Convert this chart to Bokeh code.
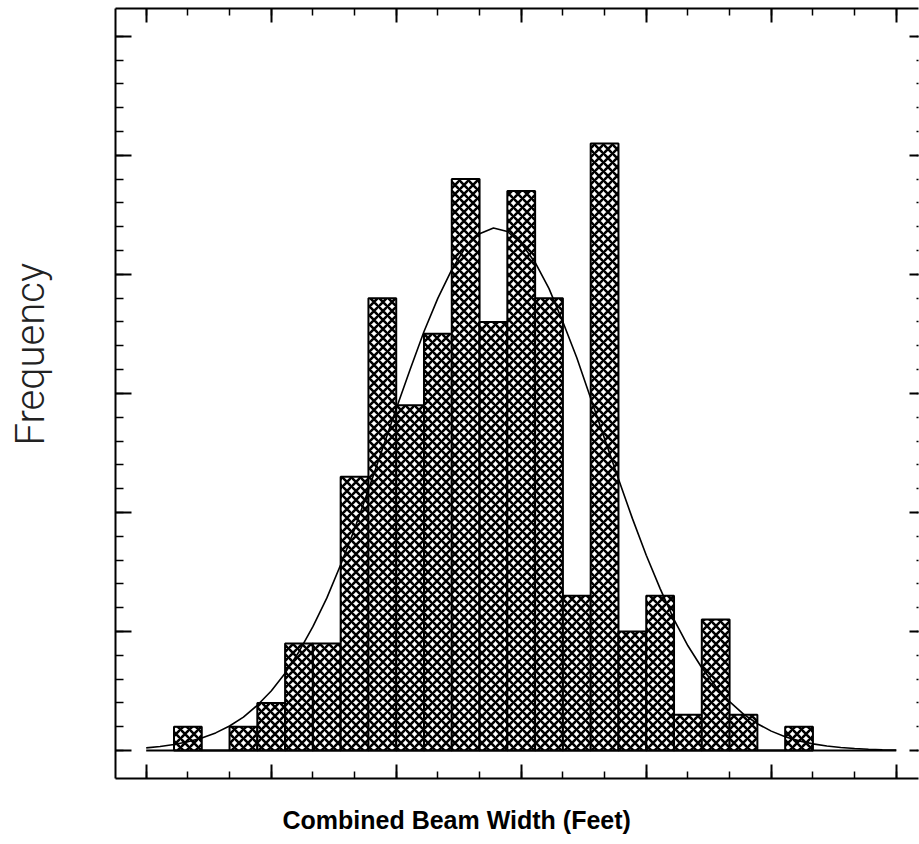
from bokeh.plotting import figure
from bokeh.models import FixedTicker, LinearAxis, Range1d, ColumnDataSource, Title
from bokeh.embed import file_html
from bokeh.resources import INLINE

# ---- data (x in bin units, y in counts) ----
bin_start = [1, 2, 3, 4, 5, 6, 7, 8, 9, 10, 11, 12, 13, 14, 15, 16, 17, 18, 19, 20, 21, 22, 23]
bin_width = 1
counts = [2, 0, 2, 4, 9, 9, 23, 38, 29, 35, 48, 36, 47, 38, 13, 51, 10, 13, 3, 11, 3, 0, 2]

curve_x = [0, 0.5, 1, 1.5, 2, 2.5, 3, 3.5, 4, 4.5, 5, 5.5, 6, 6.5, 7, 7.5, 8, 8.5, 9, 9.5, 10, 10.5,
           11, 11.5, 12, 12.5, 13, 13.5, 14, 14.5, 15, 15.5, 16, 16.5, 17, 17.5, 18, 18.5, 19, 19.5,
           20, 20.5, 21, 21.5, 22, 22.5, 23, 23.5, 24, 24.5, 25, 25.5, 26, 26.5, 27]
curve_y = [0.22, 0.34, 0.5, 0.73, 1.05, 1.48, 2.06, 2.81, 3.8, 5.0, 6.5, 8.3, 10.4, 12.8, 15.6, 18.6,
           21.9, 25.3, 28.7, 32.0, 35.2, 38.0, 40.4, 42.3, 43.4, 43.9, 43.6, 42.6, 41.0, 38.8, 36.0,
           33.0, 29.6, 26.2, 22.8, 19.5, 16.4, 13.6, 11.0, 8.8, 6.95, 5.4, 4.1, 3.06, 2.25, 1.63,
           1.16, 0.81, 0.56, 0.38, 0.25, 0.17, 0.11, 0.07, 0.04]

x_axis_min, x_axis_max = 0, 27
x_major = [0, 4.5, 9, 13.5, 18, 22.5, 27]
x_minor = [0, 1.5, 3, 4.5, 6, 7.5, 9, 10.5, 12, 13.5, 15, 16.5, 18, 19.5, 21, 22.5, 24, 25.5, 27]
y_major = [0, 10, 20, 30, 40, 50, 60]
y_minor = list(range(0, 61, 2))

x_label = "Combined Beam Width (Feet)"
y_label = "Frequency"

# ---- figure ----
p = figure(width=919, height=844, output_backend="svg", toolbar_location=None,
           x_range=Range1d(-1.105, 27.80), y_range=Range1d(-2.35, 62.33),
           min_border_left=115, min_border_right=1, min_border_top=8, min_border_bottom=65,
           x_axis_location=None, y_axis_location=None)
p.outline_line_color = None
p.grid.visible = False
p.background_fill_color = "white"
p.border_fill_color = "white"


def style_axis(ax, major, minor, tin, min_in, show_line=True):
    ax.ticker = FixedTicker(ticks=major, minor_ticks=minor)
    ax.major_tick_in = tin
    ax.major_tick_out = 0
    ax.minor_tick_in = min_in
    ax.minor_tick_out = 0
    ax.major_label_text_font_size = "0px"
    ax.major_label_text_color = None
    ax.major_label_standoff = 0
    ax.axis_label = None
    ax.axis_line_width = 2
    ax.axis_line_color = "black" if show_line else None
    ax.major_tick_line_width = 2
    ax.minor_tick_line_width = 1.5
    ax.major_tick_line_color = "black"
    ax.minor_tick_line_color = "black"


def spacer_axis(major, size):
    # an invisible axis that only reserves room between the frame and the title
    ax = LinearAxis(ticker=FixedTicker(ticks=major, minor_ticks=[]))
    ax.major_tick_in = 0
    ax.major_tick_out = size
    ax.minor_tick_in = 0
    ax.minor_tick_out = 0
    ax.major_tick_line_color = None
    ax.minor_tick_line_color = None
    ax.axis_line_color = None
    ax.major_label_text_font_size = "0px"
    ax.major_label_text_color = None
    ax.major_label_standoff = 0
    ax.axis_label = None
    return ax


bottom = LinearAxis()
style_axis(bottom, x_major, x_minor, 14, 7)
p.add_layout(bottom, "below")
p.add_layout(spacer_axis(x_major, 14), "below")
top = LinearAxis()
style_axis(top, x_major, x_minor, 14, 7)
p.add_layout(top, "above")
left = LinearAxis()
style_axis(left, y_major, y_minor, 16, 8)
p.add_layout(left, "left")
p.add_layout(spacer_axis(y_major, 58), "left")
right = LinearAxis()
style_axis(right, y_major, y_minor, 9, 2, show_line=False)
p.add_layout(right, "right")

p.add_layout(Title(text=x_label, align="left", offset=167, standoff=22,
                   text_font="Liberation Sans", text_font_style="bold",
                   text_font_size="25px", text_color="black"), "below")
p.add_layout(Title(text=y_label, align="left", offset=333, standoff=8,
                   text_font="Roboto Light", text_font_style="normal",
                   text_font_size="40px", text_color="#222222"), "left")

src = ColumnDataSource(dict(
    left=bin_start,
    right=[b + bin_width for b in bin_start],
    top=counts,
    bottom=[0] * len(counts),
))
p.quad(left="left", right="right", top="top", bottom="bottom", source=src,
       fill_color="white", line_color="black", line_width=2,
       hatch_pattern="diagonal_cross", hatch_color="black", hatch_weight=2.6, hatch_scale=9)

p.line([x_axis_min, x_axis_max], [0, 0], line_color="black", line_width=2)
p.line(curve_x, curve_y, line_color="black", line_width=1.6)

open("out.html", "w").write(file_html(p, INLINE))
